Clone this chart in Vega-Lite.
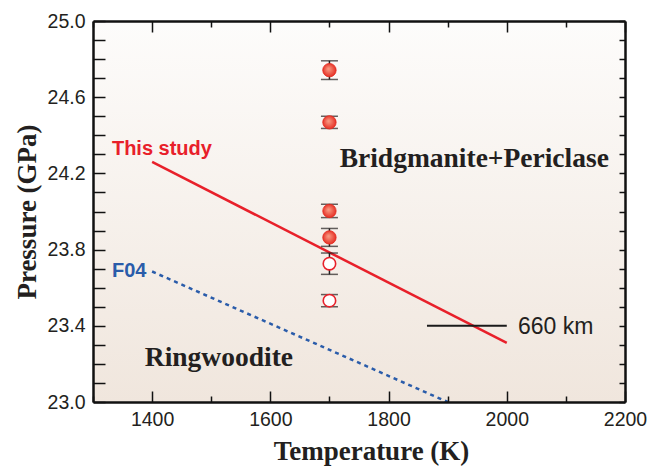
{
  "$schema": "https://vega.github.io/schema/vega-lite/v6.json",
  "autosize": "none",
  "width": 532,
  "height": 381,
  "padding": {"left": 93, "top": 21, "right": 22, "bottom": 66},
  "background": "white",
  "config": {"view": {"stroke": null}},
  "datasets": {
    "bg": [{"x1": 1300, "x2": 2200, "y1": 23.0, "y2": 25.0}],
    "thisStudy": [{"T": 1400, "P": 24.26}, {"T": 2000, "P": 23.31}],
    "f04": [{"T": 1400, "P": 23.685}, {"T": 1900, "P": 23.0}],
    "km660": [{"T1": 1865, "T2": 2000, "P": 23.40}],
    "obs": [
      {"T": 1700, "P": 24.742, "lo": 24.693, "hi": 24.791, "type": "filled"},
      {"T": 1700, "P": 24.468, "lo": 24.436, "hi": 24.500, "type": "filled"},
      {"T": 1700, "P": 24.003, "lo": 23.968, "hi": 24.038, "type": "filled"},
      {"T": 1700, "P": 23.864, "lo": 23.817, "hi": 23.911, "type": "filled"},
      {"T": 1700, "P": 23.726, "lo": 23.670, "hi": 23.782, "type": "open"},
      {"T": 1700, "P": 23.532, "lo": 23.500, "hi": 23.564, "type": "open"}
    ],
    "labels": [
      {"T": 1332, "P": 24.333, "text": "This study", "kind": "this"},
      {"T": 1332, "P": 23.693, "text": "F04", "kind": "f04"}
    ],
    "regions": [
      {"T": 1945, "P": 24.28, "text": "Bridgmanite+Periclase"},
      {"T": 1513, "P": 23.236, "text": "Ringwoodite"}
    ],
    "kmLabel": [{"T": 2019, "P": 23.399, "text": "660 km"}]
  },
  "layer": [
    {
      "data": {"name": "bg"},
      "mark": {
        "type": "rect",
        "fill": {
          "gradient": "linear",
          "x1": 0, "y1": 0, "x2": 0, "y2": 1,
          "stops": [
            {"offset": 0, "color": "#fdfcfb"},
            {"offset": 1, "color": "#f0e6dd"}
          ]
        }
      },
      "encoding": {
        "x": {
          "field": "x1", "type": "quantitative",
          "scale": {"domain": [1300, 2200], "nice": false, "zero": false},
          "axis": {
            "orient": "bottom", "zindex": 1,
            "title": "Temperature (K)",
            "titleFont": "Liberation Serif", "titleFontSize": 27, "titleFontWeight": "bold",
            "titleColor": "#231f20", "titlePadding": 10, "titleX": 278,
            "values": [1300, 1400, 1500, 1600, 1700, 1800, 1900, 2000, 2100, 2200],
            "labelExpr": "datum.value % 200 == 0 ? format(datum.value, 'd') : ''",
            "labelFont": "Liberation Sans", "labelFontSize": 19.5, "labelColor": "#231f20",
            "labelPadding": 19, "labelFlush": false,
            "domainColor": "#111", "domainWidth": 2.5,
            "tickColor": "#111", "tickWidth": 1.5,
            "tickSize": {"condition": {"test": "datum.value % 200 == 0", "value": -11}, "value": -6},
            "grid": false
          }
        },
        "x2": {"field": "x2"},
        "y": {
          "field": "y1", "type": "quantitative",
          "scale": {"domain": [23, 25], "nice": false, "zero": false},
          "axis": {
            "orient": "left", "zindex": 1,
            "title": "Pressure (GPa)",
            "titleFont": "Liberation Serif", "titleFontSize": 27, "titleFontWeight": "bold",
            "titleColor": "#231f20", "titlePadding": 6,
            "values": [23.0, 23.1, 23.2, 23.3, 23.4, 23.5, 23.6, 23.7, 23.8, 23.9, 24.0, 24.1, 24.2, 24.3, 24.4, 24.5, 24.6, 24.7, 24.8, 24.9, 25.0],
            "labelExpr": "round(datum.value * 10) % 4 == 2 ? format(datum.value, '.1f') : ''",
            "labelFont": "Liberation Sans", "labelFontSize": 19.5, "labelColor": "#231f20",
            "labelPadding": 20, "labelFlush": false,
            "domainColor": "#111", "domainWidth": 2.5,
            "tickColor": "#111", "tickWidth": 1.5, "tickSize": -12,
            "grid": false
          }
        },
        "y2": {"field": "y2"}
      }
    },
    {
      "data": {"name": "thisStudy"},
      "mark": {"type": "line", "color": "#e8202a", "strokeWidth": 2.5},
      "encoding": {
        "x": {
          "field": "T", "type": "quantitative",
          "axis": {
            "orient": "top", "zindex": 1, "title": null, "labels": false,
            "values": [1300, 1400, 1500, 1600, 1700, 1800, 1900, 2000, 2100, 2200],
            "domainColor": "#111", "domainWidth": 2.5,
            "tickColor": "#111", "tickWidth": 1.5,
            "tickSize": {"condition": {"test": "datum.value % 200 == 0", "value": -11}, "value": -6},
            "grid": false
          }
        },
        "y": {
          "field": "P", "type": "quantitative",
          "axis": {
            "orient": "right", "zindex": 1, "title": null, "labels": false,
            "values": [23.0, 23.1, 23.2, 23.3, 23.4, 23.5, 23.6, 23.7, 23.8, 23.9, 24.0, 24.1, 24.2, 24.3, 24.4, 24.5, 24.6, 24.7, 24.8, 24.9, 25.0],
            "domainColor": "#111", "domainWidth": 2.5,
            "tickColor": "#111", "tickWidth": 1.5, "tickSize": -6,
            "grid": false
          }
        }
      }
    },
    {
      "data": {"name": "f04"},
      "mark": {"type": "line", "color": "#2a5caa", "strokeWidth": 2.5, "strokeDash": [4, 4]},
      "encoding": {
        "x": {"field": "T", "type": "quantitative", "axis": null},
        "y": {"field": "P", "type": "quantitative", "axis": null}
      }
    },
    {
      "data": {"name": "km660"},
      "mark": {"type": "rule", "color": "#1a1a1a", "strokeWidth": 2},
      "encoding": {
        "x": {"field": "T1", "type": "quantitative", "axis": null},
        "x2": {"field": "T2"},
        "y": {"field": "P", "type": "quantitative", "axis": null}
      }
    },
    {
      "data": {"name": "obs"},
      "mark": {
        "type": "errorbar",
        "ticks": {"size": 17, "thickness": 1.5, "color": "#231f20"},
        "rule": {"strokeWidth": 1.5, "color": "#231f20"}
      },
      "encoding": {
        "x": {"field": "T", "type": "quantitative", "axis": null},
        "y": {"field": "lo", "type": "quantitative", "axis": null},
        "y2": {"field": "hi"}
      }
    },
    {
      "data": {"name": "obs"},
      "transform": [{"filter": "datum.type == 'filled'"}],
      "mark": {
        "type": "point", "shape": "circle", "size": 180, "filled": true, "opacity": 1,
        "fill": {
          "gradient": "radial",
          "x1": 0.42, "y1": 0.4, "r1": 0, "x2": 0.5, "y2": 0.5, "r2": 0.55,
          "stops": [
            {"offset": 0, "color": "#f9a088"},
            {"offset": 1, "color": "#e4281e"}
          ]
        },
        "stroke": "#e4281e", "strokeWidth": 0.8
      },
      "encoding": {
        "x": {"field": "T", "type": "quantitative", "axis": null},
        "y": {"field": "P", "type": "quantitative", "axis": null}
      }
    },
    {
      "data": {"name": "obs"},
      "transform": [{"filter": "datum.type == 'open'"}],
      "mark": {
        "type": "point", "shape": "circle", "size": 155, "filled": false, "opacity": 1,
        "fill": "white", "stroke": "#e8202a", "strokeWidth": 1.6
      },
      "encoding": {
        "x": {"field": "T", "type": "quantitative", "axis": null},
        "y": {"field": "P", "type": "quantitative", "axis": null}
      }
    },
    {
      "data": {"name": "labels"},
      "mark": {"type": "text", "align": "left", "baseline": "middle", "font": "Liberation Sans", "fontWeight": "bold", "fontSize": 20, "dy": 1},
      "encoding": {
        "x": {"field": "T", "type": "quantitative", "axis": null},
        "y": {"field": "P", "type": "quantitative", "axis": null},
        "text": {"field": "text"},
        "color": {
          "field": "kind", "type": "nominal", "legend": null,
          "scale": {"domain": ["this", "f04"], "range": ["#e8202a", "#2a5caa"]}
        }
      }
    },
    {
      "data": {"name": "regions"},
      "mark": {"type": "text", "align": "center", "baseline": "middle", "font": "Liberation Serif", "fontWeight": "bold", "fontSize": 27.5, "color": "#231f20", "dy": 1},
      "encoding": {
        "x": {"field": "T", "type": "quantitative", "axis": null},
        "y": {"field": "P", "type": "quantitative", "axis": null},
        "text": {"field": "text"}
      }
    },
    {
      "data": {"name": "kmLabel"},
      "mark": {"type": "text", "align": "left", "baseline": "middle", "font": "Liberation Sans", "fontSize": 23, "color": "#231f20", "dy": 1},
      "encoding": {
        "x": {"field": "T", "type": "quantitative", "axis": null},
        "y": {"field": "P", "type": "quantitative", "axis": null},
        "text": {"field": "text"}
      }
    }
  ]
}
